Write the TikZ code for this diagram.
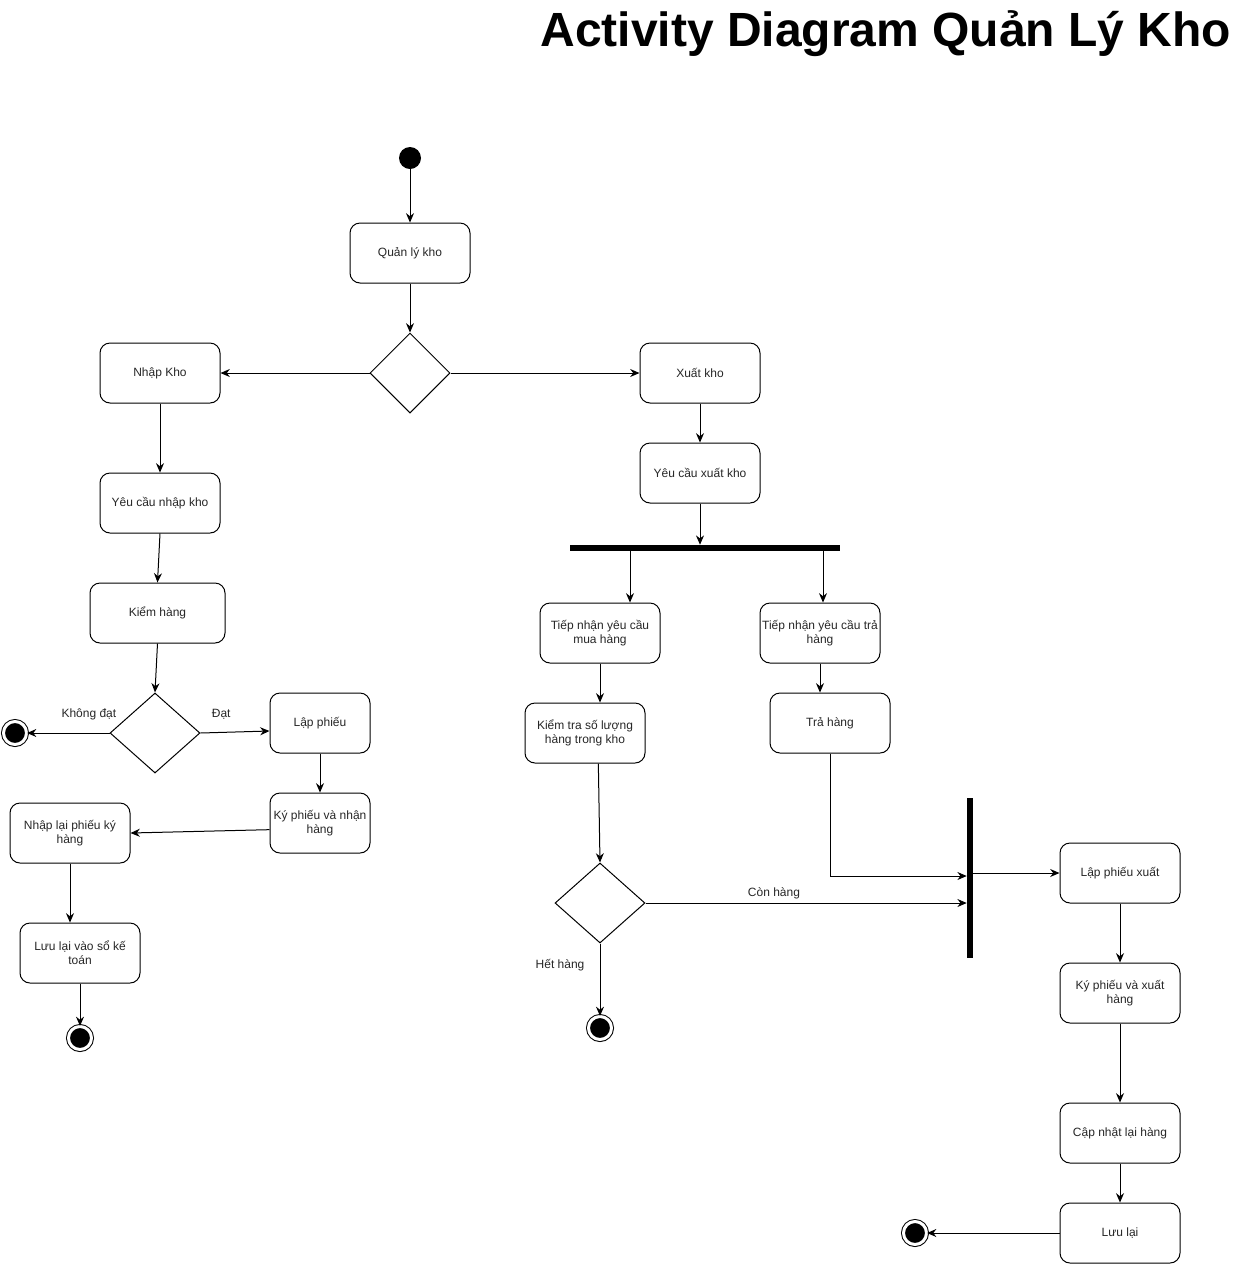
\documentclass[tikz,border=0pt]{standalone}
\usepackage{fontspec}
\setmainfont{Liberation Sans}
\usetikzlibrary{shapes.geometric,arrows.meta,calc}
\begin{document}
\begin{tikzpicture}[x=0.75pt,y=-0.75pt,
  font=\fontsize{9}{10.5}\selectfont,
  act/.style={draw, rounded corners=7.5pt, line width=0.75pt, minimum width=90pt, minimum height=45pt, align=center, inner sep=1pt, text=black!85},
  dec/.style={draw, diamond, line width=0.75pt, minimum width=67.5pt, minimum height=60pt, inner sep=0pt},
  initn/.style={circle, fill=black, minimum size=16.5pt, inner sep=0pt},
  endn/.style={circle, draw, line width=0.75pt, fill=black, minimum size=17.25pt, inner sep=0pt, double=white, double distance=2.25pt},
  bar/.style={fill=black, inner sep=0pt},
  arr/.style={-{Stealth[length=7pt,width=6pt]}, line width=0.75pt},
  lbl/.style={text=black!85}]
\useasboundingbox (0,0) rectangle (1241,1265);
\node[anchor=base east, font=\fontsize{36}{40}\selectfont\bfseries] (title) at (1236,46) {Activity Diagram Quản Lý Kho};

\node[initn] (start) at (410,158) {};
\node[act] (qlk) at (410,253) {Quản lý kho};
\node[dec, minimum width=60pt] (d1) at (410,373) {};
\node[act] (nk) at (160,373) {Nhập Kho};
\node[act] (xk) at (700,373) {Xuất kho};
\node[act] (ycnk) at (160,503) {Yêu cầu nhập kho};
\node[act, minimum width=101.25pt] (kh) at (157.5,613) {Kiểm hàng};
\node[dec] (d2) at (155,733) {};
\node[endn] (e1) at (15,733) {};
\node[act, minimum width=75pt] (lp) at (320,723) {Lập phiếu};
\node[act, minimum width=75pt] (kpnh) at (320,823) {Ký phiếu và nhận\\hàng};
\node[act] (nlp) at (70,833) {Nhập lại phiếu ký\\hàng};
\node[act] (llsk) at (80,953) {Lưu lại vào sổ kế\\toán};
\node[endn] (e2) at (80,1038) {};

\node[act] (ycxk) at (700,473) {Yêu cầu xuất kho};
\node[bar, minimum width=202.5pt, minimum height=4.5pt] (fork) at (705,548) {};
\node[act] (tnm) at (600,633) {Tiếp nhận yêu cầu\\mua hàng};
\node[act] (tnt) at (820,633) {Tiếp nhận yêu cầu trả\\hàng};
\node[act] (kt) at (585,733) {Kiểm tra số lượng\\hàng trong kho};
\node[act] (th) at (830,723) {Trả hàng};
\node[dec] (d3) at (600,903) {};
\node[endn] (e3) at (600,1028) {};
\node[bar, minimum width=4.5pt, minimum height=120pt] (join) at (970,878) {};
\node[act] (lpx) at (1120,873) {Lập phiếu xuất};
\node[act] (kpxh) at (1120,993) {Ký phiếu và xuất\\hàng};
\node[act] (cn) at (1120,1133) {Cập nhật lại hàng};
\node[act] (ll) at (1120,1233) {Lưu lại};
\node[endn] (e4) at (915,1233) {};

\draw[arr] (start) -- (qlk);
\draw[arr] (qlk) -- (d1);
\draw[arr] (d1.west) -- (nk.east);
\draw[arr] (d1.east) -- (xk.west);
\draw[arr] (nk) -- (ycnk);
\draw[arr] (ycnk.south) -- (kh.north);
\draw[arr] (kh.south) -- (d2.north);
\draw[arr] (d2.west) -- (e1) node[lbl, pos=0.25, above=6pt] (l1) {Không đạt};
\draw[arr] (d2.east) -- ([yshift=-6pt]lp.west) node[lbl, pos=0.3, above=6pt] (l2) {Đạt};
\draw[arr] (lp) -- (kpnh);
\draw[arr] ([yshift=-5pt]kpnh.west) -- (nlp.east);
\draw[arr] (nlp.south) -- (nlp.south |- llsk.north);
\draw[arr] (llsk) -- (e2);

\draw[arr] (xk) -- (ycxk);
\draw[arr] (ycxk.south) -- (ycxk.south |- fork.north);
\draw[arr] ([xshift=22.5pt]tnm.north |- fork.south) -- ([xshift=22.5pt]tnm.north);
\draw[arr] ([xshift=2.25pt]tnt.north |- fork.south) -- ([xshift=2.25pt]tnt.north);
\draw[arr] (tnm) -- (tnm |- kt.north);
\draw[arr] (tnt) -- (tnt |- th.north);
\draw[arr] ([xshift=10pt]kt.south) -- (d3.north);
\draw[arr] (d3.east) -- (d3.east -| join.west) node[lbl, pos=0.4, above=-1pt] (l3) {Còn hàng};
\draw[arr] (d3.south) -- (e3) node[lbl, pos=0.3, left=8pt] (l4) {Hết hàng};
\draw[arr] (th.south) |- ([yshift=1.5pt]join.west);
\draw[arr] (join.east |- lpx.west) -- (lpx.west);
\draw[arr] (lpx) -- (kpxh);
\draw[arr] (kpxh) -- (cn);
\draw[arr] (cn) -- (ll);
\draw[arr] (ll) -- (e4);
\end{tikzpicture}
\end{document}
